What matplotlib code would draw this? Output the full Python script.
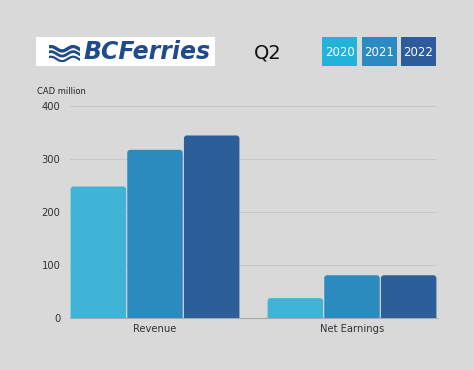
import numpy as np
import matplotlib
matplotlib.use("Agg")
import matplotlib.pyplot as plt
from matplotlib.patches import Rectangle, FancyBboxPatch

# data
categories = ["Revenue", "Net Earnings"]
years = ["2020", "2021", "2022"]
vals_2020 = [248, 38]
vals_2021 = [317, 81]
vals_2022 = [344, 81]
yticks = [0, 100, 200, 300, 400]

bar_cols = ["#40b4d6", "#2b8bbf", "#2c5f99"]
legend_cols = ["#22b4d8", "#2b8bc0", "#2c5c9a"]
bg = "#d9d9d9"
logo_blue = "#1f4a8c"

fig = plt.figure(figsize=(4.74, 3.70), dpi=100, facecolor=bg)
ax = fig.add_axes([70/474, 1-318.3/370, 367/474, 212.6/370])
ax.set_facecolor(bg)

x = np.arange(len(categories))
w = 0.2877
series = [vals_2020, vals_2021, vals_2022]
for i, vals in enumerate(series):
    bars = ax.bar(x + (i-1)*w, vals, w, color=bar_cols[i], linewidth=0)
    # swap plain bars for ones with rounded tops
    for b in bars:
        b.set_visible(False)
        px_x = 367 / 1.863  # pixels per x unit
        px_y = 212.6 / 400  # pixels per y unit
        r = 3.0
        p = FancyBboxPatch((b.get_x() + 0.003, -20), b.get_width() - 0.006, b.get_height() + 20,
                           boxstyle="round,pad=0,rounding_size=%f" % (r/px_x),
                           mutation_aspect=px_x/px_y,
                           facecolor=bar_cols[i], edgecolor="none", zorder=3)
        ax.add_patch(p)

ax.set_xlim(-1.5*w, 1 + 1.5*w)
ax.set_ylim(0, 400)
ax.set_yticks(yticks)
ax.set_xticks(x)
ax.set_xticklabels(categories)
ax.tick_params(axis="both", length=0, labelsize=7.2, labelcolor="#333333")
ax.tick_params(axis="y", pad=7)
ax.tick_params(axis="x", pad=4)
ax.grid(axis="y", color="#c6c6c6", linewidth=0.7)
ax.set_axisbelow(True)
for s in ["top", "right", "left"]:
    ax.spines[s].set_visible(False)
ax.spines["bottom"].set_color("#a8a8a8")
ax.spines["bottom"].set_linewidth(0.8)

fig.text(37/474, 1-91/370, "CAD million", fontsize=6, color="#222222", va="center")

# header: logo
fig.patches.append(Rectangle((36/474, 1-66/370), 179/474, 29/370, zorder=-1,
                             transform=fig.transFigure, facecolor="white", edgecolor="none"))
lax = fig.add_axes([49/474, 1-62/370, 31/474, 17/370])
lax.set_zorder(3)
lax.axis("off")
t = np.linspace(0, 1, 100)
for k, off in enumerate([0.78, 0.48, 0.18]):
    lax.plot(t, off + 0.13*np.sin(2*np.pi*t*1.4 + 1.0), color=logo_blue, lw=2.4 - 0.4*k)
lax.set_xlim(0, 1)
lax.set_ylim(0, 1)
fig.text(147/474, 1-52/370, "BCFerries", fontsize=17, fontweight="bold", style="italic",
         color=logo_blue, ha="center", va="center")

fig.text(268/474, 1-53/370, "Q2", fontsize=14, color="#111111", ha="center", va="center")

# legend boxes
lx = [322, 362, 401]
for i, yr in enumerate(years):
    fig.patches.append(Rectangle((lx[i]/474, 1-66/370), 35/474, 29/370,
                                 transform=fig.transFigure, facecolor=legend_cols[i], edgecolor="none"))
    fig.text((lx[i]+17.5)/474, 1-52/370, yr, fontsize=8.5, color="white", ha="center", va="center")

fig.savefig("out.png", dpi=100, facecolor=bg)
